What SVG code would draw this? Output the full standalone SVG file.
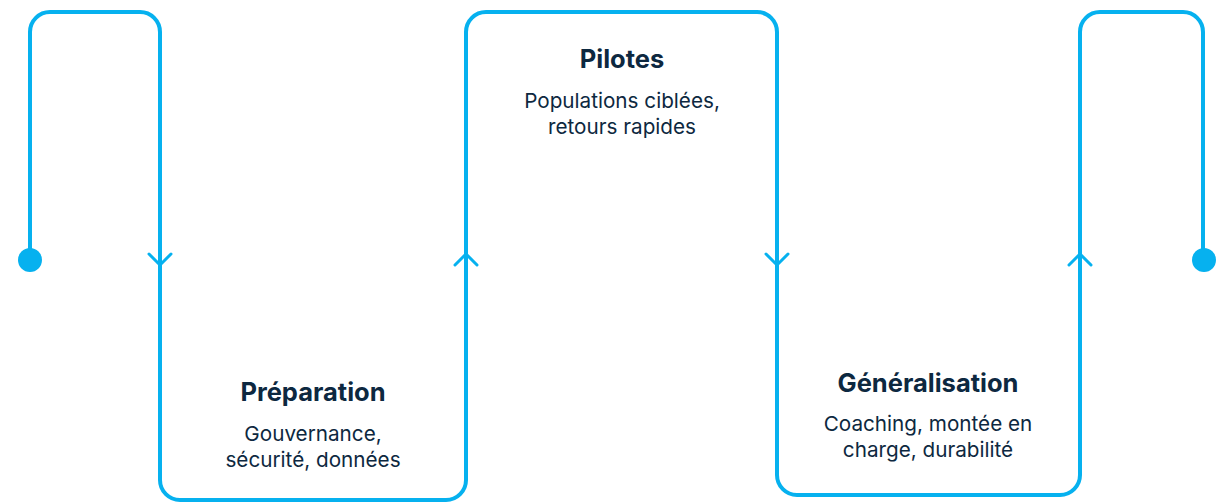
<svg xmlns="http://www.w3.org/2000/svg" width="1223" height="504" viewBox="0 0 1223 504">
<style>
.line{fill:none;stroke:#06b1ef;stroke-width:4;stroke-linecap:round;stroke-linejoin:round}
.chev{fill:none;stroke:#06b1ef;stroke-width:3;stroke-linecap:round;stroke-linejoin:round}
.dot{fill:#06b1ef}
.title{font-family:Inter,"Noto Sans",sans-serif;font-weight:700;font-size:25.5px;fill:#0d2840;text-anchor:middle}
.body{font-family:Inter,"Noto Sans",sans-serif;font-size:20.7px;fill:#0d2840;text-anchor:middle}
</style>
<rect width="1223" height="504" fill="#ffffff"/>
<g id="connectors">
<path class="line" d="M30,260 V32 A20,20 0 0 1 50,12 H140 A20,20 0 0 1 160,32 V480 A20,20 0 0 0 180,500 H446 A20,20 0 0 0 466,480 V32 A20,20 0 0 1 486,12 H757 A20,20 0 0 1 777,32 V475 A20,20 0 0 0 797,495 H1060 A20,20 0 0 0 1080,475 V32 A20,20 0 0 1 1100,12 H1183 A20,20 0 0 1 1203,32 V260"/>
<polyline class="chev" points="149,254 160,265 171,254"/>
<polyline class="chev" points="455,265 466,254 477,265"/>
<polyline class="chev" points="766,254 777,265 788,254"/>
<polyline class="chev" points="1069,265 1080,254 1091,265"/>
<circle class="dot" cx="30" cy="260" r="12"/>
<circle class="dot" cx="1204" cy="260" r="12"/>
</g>
<g id="preparation">
<text class="title" x="313" y="401">Préparation</text>
<text class="body" x="313" y="441">Gouvernance,</text>
<text class="body" x="313" y="467">sécurité, données</text>
</g>
<g id="pilotes">
<text class="title" x="622" y="68">Pilotes</text>
<text class="body" x="622" y="108">Populations ciblées,</text>
<text class="body" x="622" y="134">retours rapides</text>
</g>
<g id="generalisation">
<text class="title" x="928" y="392">Généralisation</text>
<text class="body" x="928" y="431">Coaching, montée en</text>
<text class="body" x="928" y="457">charge, durabilité</text>
</g>
</svg>
